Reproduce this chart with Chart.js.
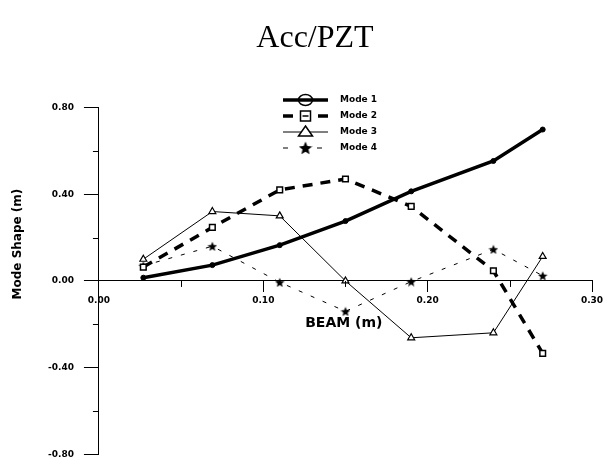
<!DOCTYPE html>
<html>
<head>
<meta charset="utf-8">
<script src="https://cdn.jsdelivr.net/npm/chart.js@4.4.0/dist/chart.umd.min.js"></script>
<style>
  body { margin: 0; background: #fff; }
  canvas { display: block; }
</style>
</head>
<body>
<canvas id="modeChart" width="608" height="460"></canvas>
<script>
// beam positions (m) where the sensors sit
const beamPos = [0.027, 0.069, 0.11, 0.15, 0.19, 0.24, 0.27];
// mode shape values
const mode1 = [0.015, 0.073, 0.165, 0.276, 0.413, 0.553, 0.698];
const mode2 = [0.064, 0.247, 0.42, 0.47, 0.344, 0.047, -0.334];
const mode3 = [0.10, 0.32, 0.30, 0.0, -0.262, -0.239, 0.113];
const mode4 = [0.07, 0.16, -0.006, -0.14, -0.003, 0.146, 0.024];
const modeNames = ["Mode 1", "Mode 2", "Mode 3", "Mode 4"];

const xTicks = [0, 0.1, 0.2, 0.3];
const yTicks = [-0.8, -0.4, 0, 0.4, 0.8];
const xMinor = [0.05, 0.15, 0.25];
const yMinor = [-0.6, -0.2, 0.2, 0.6];

const tickFont = { family: "DejaVu Sans", size: 9, weight: "bold" };

const toPoints = (vals) => beamPos.map((x, i) => ({ x: x, y: vals[i] }));

//filled five point star, chart.js only has the asterisk one
function makeStar(size) {
  const c = document.createElement("canvas");
  c.width = size;
  c.height = size;
  const g = c.getContext("2d");
  const r = size / 2, r2 = r * 0.45;
  g.beginPath();
  for (let i = 0; i < 10; i++) {
    const a = -Math.PI / 2 + i * Math.PI / 5;
    const rr = i % 2 === 0 ? r : r2;
    g.lineTo(r + rr * Math.cos(a), r + 0.6 + rr * Math.sin(a));
  }
  g.closePath();
  g.fillStyle = "#000";
  g.fill();
  return c;
}
const starSmall = makeStar(10);
const starBig = makeStar(14);

//minor ticks, axis titles and the legend are drawn by hand
const extras = {
  id: "extras",
  afterDraw(chart) {
    const ctx = chart.ctx;
    const xs = chart.scales.x;
    const ys = chart.scales.y;
    const y0 = ys.getPixelForValue(0);
    const left = chart.chartArea.left;
    ctx.save();
    ctx.strokeStyle = "#000";
    ctx.lineWidth = 1;
    ctx.beginPath();
    for (let v of yMinor) {
      const py = Math.round(ys.getPixelForValue(v)) + 0.5;
      ctx.moveTo(left - 6, py);
      ctx.lineTo(left, py);
    }
    for (let v of xMinor) {
      const px = Math.round(xs.getPixelForValue(v)) + 0.5;
      ctx.moveTo(px, y0);
      ctx.lineTo(px, y0 + 6);
    }
    ctx.stroke();

    // axis titles
    ctx.fillStyle = "#000";
    ctx.font = "bold 14px 'DejaVu Sans'";
    ctx.textAlign = "center";
    ctx.textBaseline = "middle";
    ctx.fillText("BEAM (m)", xs.getPixelForValue(0.149), y0 + 42);
    ctx.save();
    ctx.translate(18, ys.getPixelForValue(0.17));
    ctx.rotate(-Math.PI / 2);
    ctx.font = "bold 12px 'DejaVu Sans'";
    ctx.fillText("Mode Shape (m)", 0, 0);
    ctx.restore();

    // legend
    const lx1 = 283, lx2 = 328, ly = 100;
    chart.data.datasets.forEach((ds, i) => {
      const y = ly + i * 16;
      const mid = (lx1 + lx2) / 2;
      ctx.save();
      ctx.strokeStyle = "#000";
      ctx.lineWidth = ds.borderWidth;
      ctx.setLineDash(ds.legendDash);
      ctx.beginPath();
      ctx.moveTo(lx1, y);
      ctx.lineTo(lx2, y);
      ctx.stroke();
      ctx.setLineDash([]);
      ctx.lineWidth = 1.5;
      if (i === 0) {
        ctx.beginPath();
        ctx.ellipse(mid, y, 7, 5.5, 0, 0, Math.PI * 2);
        ctx.stroke();
      } else if (i === 1) {
        ctx.fillStyle = "#fff";
        ctx.fillRect(mid - 5, y - 5, 10, 10);
        ctx.strokeRect(mid - 5, y - 5, 10, 10);
        ctx.beginPath();
        ctx.moveTo(mid - 3, y);
        ctx.lineTo(mid + 3, y);
        ctx.stroke();
      } else if (i === 2) {
        ctx.fillStyle = "#fff";
        ctx.beginPath();
        ctx.moveTo(mid, y - 6);
        ctx.lineTo(mid + 7, y + 4);
        ctx.lineTo(mid - 7, y + 4);
        ctx.closePath();
        ctx.fill();
        ctx.stroke();
      } else {
        ctx.drawImage(starBig, mid - 7, y - 7);
      }
      ctx.restore();
      ctx.fillStyle = "#000";
      ctx.font = "bold 9px 'DejaVu Sans'";
      ctx.textAlign = "left";
      ctx.fillText(modeNames[i], 340, y);
    });
    ctx.restore();
  }
};

new Chart(document.getElementById("modeChart"), {
  type: "line",
  plugins: [extras],
  data: {
    datasets: [
      {
        label: modeNames[0],
        data: toPoints(mode1),
        borderColor: "#000",
        backgroundColor: "#000",
        borderWidth: 3.5,
        pointStyle: "circle",
        pointRadius: 2.5,
        pointBorderWidth: 1,
        legendDash: []
      },
      {
        label: modeNames[1],
        data: toPoints(mode2),
        borderColor: "#000",
        backgroundColor: "#fff",
        borderWidth: 3.5,
        borderDash: [10, 8],
        pointStyle: "rect",
        pointRadius: 4,
        pointBorderWidth: 1.5,
        legendDash: [10, 25]
      },
      {
        label: modeNames[2],
        data: toPoints(mode3),
        borderColor: "#000",
        backgroundColor: "#fff",
        borderWidth: 1,
        pointStyle: "triangle",
        pointRadius: 4,
        pointBorderWidth: 1.2,
        legendDash: []
      },
      {
        label: modeNames[3],
        data: toPoints(mode4),
        borderColor: "#000",
        backgroundColor: "#000",
        borderWidth: 1,
        borderDash: [4, 9],
        pointStyle: starSmall,
        pointRadius: 4,
        legendDash: [5, 29]
      }
    ]
  },
  options: {
    responsive: false,
    animation: false,
    layout: { padding: { left: 38, right: 16, top: 4, bottom: -3 } },
    plugins: {
      legend: { display: false },
      tooltip: { enabled: false },
      title: {
        display: true,
        text: "Acc/PZT",
        color: "#000",
        font: { family: "Liberation Serif", size: 32, weight: "normal" },
        padding: { top: 15, bottom: 50 }
      }
    },
    scales: {
      x: {
        type: "linear",
        position: { y: 0 },
        min: 0,
        max: 0.3,
        afterBuildTicks: (axis) => { axis.ticks = xTicks.map(v => ({ value: v })); },
        // the axis sits at y = 0, so it needs no room at the bottom
        afterFit: (axis) => { axis.height = 0; },
        ticks: {
          color: "#000",
          font: tickFont,
          padding: 3,
          maxRotation: 0,
          callback: (v) => Number(v).toFixed(2)
        },
        grid: { drawOnChartArea: false, tickLength: 11, color: "#000" },
        border: { display: true, color: "#000", width: 1 }
      },
      y: {
        type: "linear",
        position: "left",
        min: -0.8,
        max: 0.8,
        afterBuildTicks: (axis) => { axis.ticks = yTicks.map(v => ({ value: v })); },
        // the last label may hang over the canvas edge a little
        afterFit: (axis) => { axis.paddingBottom = 0; },
        ticks: {
          color: "#000",
          font: tickFont,
          padding: 10,
          callback: (v) => Number(v).toFixed(2)
        },
        grid: { drawOnChartArea: false, tickLength: 15, color: "#000" },
        border: { display: true, color: "#000", width: 1 }
      }
    }
  }
});
</script>
</body>
</html>
